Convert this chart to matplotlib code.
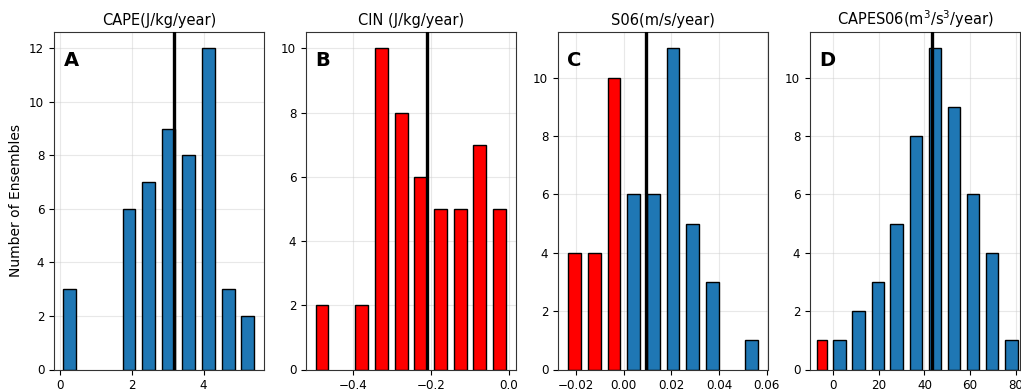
import matplotlib
matplotlib.use("Agg")
import matplotlib.pyplot as plt

# ---- data ----
cape_centers = [0.27, 0.82, 1.37, 1.92, 2.47, 3.03, 3.58, 4.13, 4.68, 5.23]
cape_counts = [3, 0, 0, 6, 7, 9, 8, 12, 3, 2]
cape_mean = 3.18

cin_centers = [-0.481, -0.430, -0.379, -0.328, -0.277, -0.227, -0.176, -0.125, -0.075, -0.024]
cin_counts = [2, 0, 2, 10, 8, 6, 5, 5, 7, 5]
cin_mean = -0.212

s06_centers = [-0.0205, -0.0123, -0.0040, 0.0042, 0.0124, 0.0207, 0.0290, 0.0372, 0.0455, 0.0537]
s06_counts = [4, 4, 10, 6, 6, 11, 5, 3, 0, 1]
s06_mean = 0.0093

capes_neg_centers = [-4.9]
capes_neg_counts = [1]
capes_centers = [2.7, 11.1, 19.5, 27.8, 36.2, 44.6, 53.0, 61.4, 69.7, 78.1]
capes_counts = [1, 2, 3, 5, 8, 11, 9, 6, 4, 1]
capes_mean = 43.5

titles = ["CAPE(J/kg/year)", "CIN (J/kg/year)", "S06(m/s/year)", r"CAPES06(m$^3$/s$^3$/year)"]
letters = ["A", "B", "C", "D"]
ylabel = "Number of Ensembles"

# ---- style / layout ----
W, H = 1021, 389
fig = plt.figure(figsize=(W / 100, H / 100), dpi=100)
lefts_px = [54, 306, 558, 810]
ax_w_px = 210
bottom_px, top_px = 369.5, 32.3
BLUE = "#1f77b4"
RED = "red"
REL_W = 0.65

xlims = [(-0.168, 5.68), (-0.522, 0.018), (-0.0275, 0.0605), (-10.2, 81.9)]

axes = []
for lp in lefts_px:
    ax = fig.add_axes([lp / W, (H - bottom_px) / H, ax_w_px / W, (bottom_px - top_px) / H])
    axes.append(ax)


def color_for(c):
    return RED if c < 0 else BLUE


def draw(ax, centers, counts, step, colors, mean):
    keep = [i for i, n in enumerate(counts) if n > 0]
    ax.bar([centers[i] for i in keep], [counts[i] for i in keep], width=step * REL_W,
           color=[colors[i] for i in keep], edgecolor="black", linewidth=1.0, zorder=2)
    ax.axvline(mean, color="black", linewidth=2.4, zorder=3)


# A
draw(axes[0], cape_centers, cape_counts, 0.551, [BLUE] * len(cape_centers), cape_mean)
# B
draw(axes[1], cin_centers, cin_counts, 0.0508, [RED] * len(cin_centers), cin_mean)
# C
draw(axes[2], s06_centers, s06_counts, 0.00827, [color_for(c) for c in s06_centers], s06_mean)
# D
axes[3].bar(capes_neg_centers, capes_neg_counts, width=4.2, color=RED, edgecolor="black", linewidth=1.0, zorder=2)
draw(axes[3], capes_centers, capes_counts, 8.37, [BLUE] * len(capes_centers), capes_mean)

for i, ax in enumerate(axes):
    ax.set_xlim(*xlims[i])
    ax.set_title(titles[i], fontsize=10.5, pad=5)
    ax.grid(True, color="#cccccc", alpha=0.45, linewidth=0.8, zorder=0)
    ax.set_axisbelow(True)
    ax.tick_params(labelsize=8.6)
    for sp in ax.spines.values():
        sp.set_color("#333333")
    ax.text(0.045, 0.945, letters[i], transform=ax.transAxes, fontsize=14,
            fontweight="bold", ha="left", va="top", zorder=5)

axes[0].set_ylabel(ylabel, fontsize=10)
axes[0].set_ylim(0, 12.6)
axes[1].set_ylim(0, 10.5)
axes[2].set_ylim(0, 11.55)
axes[3].set_ylim(0, 11.55)
axes[1].set_xticks([-0.4, -0.2, 0.0])
axes[2].set_xticks([-0.02, 0.0, 0.02, 0.04, 0.06])
axes[3].set_xticks([0, 20, 40, 60, 80])

fig.savefig("out.png", dpi=100)
